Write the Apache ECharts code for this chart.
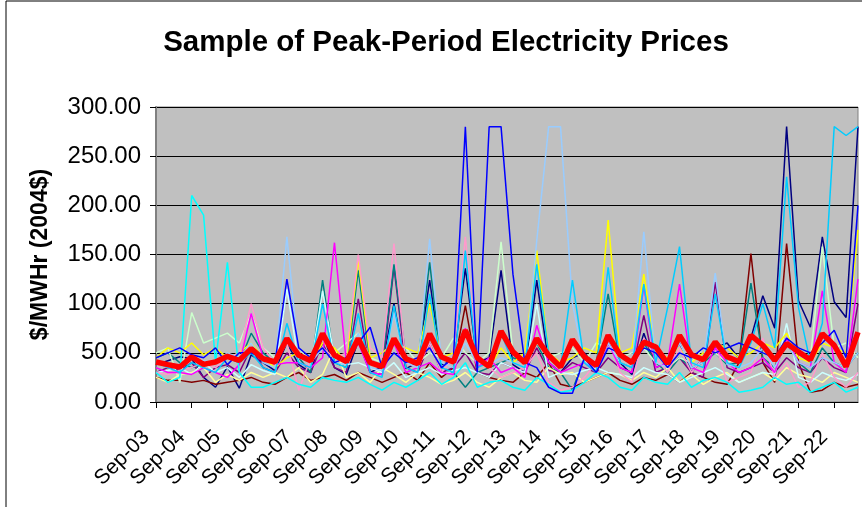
<!DOCTYPE html>
<html>
<head>
<meta charset="utf-8">
<title>Sample of Peak-Period Electricity Prices</title>
<script src="https://cdn.jsdelivr.net/npm/echarts@6/dist/echarts.min.js"></script>
<style>
  html, body { margin: 0; padding: 0; background: #fff; }
  #chart { width: 862px; height: 507px; }
</style>
</head>
<body>
<div id="chart"></div>
<script>
// days on the axis, three peak-period readings per day
var days = ['Sep-03', 'Sep-04', 'Sep-05', 'Sep-06', 'Sep-07', 'Sep-08', 'Sep-09',
  'Sep-10', 'Sep-11', 'Sep-12', 'Sep-13', 'Sep-14', 'Sep-15', 'Sep-16', 'Sep-17',
  'Sep-18', 'Sep-19', 'Sep-20', 'Sep-21', 'Sep-22'];
var readingsPerDay = 3;

var navy = [38, 42, 46, 44, 25, 15, 36, 14, 48, 40,
  32, 60, 38, 30, 70, 35, 28, 62, 30, 36,
  100, 34, 40, 124, 38, 42, 136, 40, 45, 134,
  38, 30, 124, 40, 30, 45, 50, 35, 60, 40,
  28, 70, 35, 40, 60, 30, 45, 55, 60, 44,
  65, 108, 75, 280, 103, 76, 168, 102, 86, 280];
var blue = [45, 50, 55, 48, 45, 55, 38, 50, 50, 45,
  40, 125, 55, 45, 55, 40, 45, 60, 76, 35,
  50, 40, 45, 55, 35, 45, 280, 30, 280, 280,
  130, 40, 35, 15, 9, 9, 45, 30, 55, 50,
  40, 55, 50, 35, 50, 45, 55, 50, 55, 60,
  55, 50, 45, 65, 55, 50, 60, 73, 45, 200];
var cyan = [30, 20, 25, 210, 190, 40, 142, 30, 15, 15,
  20, 25, 18, 15, 25, 22, 20, 25, 18, 12,
  20, 15, 22, 30, 18, 25, 40, 15, 20, 22,
  15, 12, 25, 18, 10, 12, 20, 30, 25, 15,
  12, 25, 20, 18, 30, 15, 22, 25, 20, 10,
  12, 15, 25, 18, 20, 10, 15, 20, 10, 15];
var skyBlue = [40, 35, 30, 40, 35, 30, 45, 40, 50, 35,
  30, 80, 40, 35, 100, 40, 35, 90, 30, 25,
  98, 35, 30, 110, 35, 30, 154, 35, 40, 70,
  40, 35, 140, 50, 35, 124, 40, 30, 137, 40,
  35, 120, 40, 96, 158, 40, 35, 110, 40, 35,
  60, 100, 55, 229, 96, 40, 80, 280, 271, 280];
var maroon = [25, 22, 22, 20, 22, 18, 20, 22, 25, 20,
  18, 25, 30, 22, 25, 28, 22, 30, 25, 20,
  25, 30, 22, 40, 25, 35, 98, 30, 25, 22,
  20, 30, 25, 40, 18, 15, 20, 25, 30, 22,
  18, 25, 22, 28, 20, 30, 25, 20, 18, 40,
  151, 40, 20, 161, 40, 10, 12, 20, 15, 18];
var magenta = [35, 30, 30, 28, 35, 30, 25, 38, 90, 45,
  38, 40, 40, 35, 45, 162, 40, 60, 30, 28,
  60, 30, 35, 40, 30, 28, 75, 35, 45, 30,
  35, 25, 78, 40, 30, 35, 40, 30, 60, 35,
  30, 118, 35, 40, 120, 35, 30, 55, 40, 30,
  35, 45, 30, 65, 40, 35, 113, 40, 30, 125];
var rose = [30, 28, 32, 35, 40, 35, 45, 50, 100, 55,
  40, 60, 12, 45, 55, 45, 50, 150, 55, 45,
  161, 40, 35, 60, 30, 45, 168, 40, 35, 25,
  30, 35, 50, 20, 12, 15, 25, 40, 70, 30,
  20, 65, 45, 30, 55, 30, 45, 60, 20, 25,
  30, 65, 25, 40, 15, 20, 50, 25, 15, 30];
var teal = [45, 50, 40, 35, 38, 42, 45, 40, 70, 50,
  40, 60, 45, 30, 124, 40, 35, 134, 40, 38,
  140, 45, 40, 142, 35, 30, 15, 30, 35, 40,
  45, 40, 60, 35, 30, 12, 45, 40, 110, 40,
  35, 60, 40, 30, 45, 35, 40, 50, 38, 40,
  121, 45, 35, 60, 40, 30, 55, 40, 35, 50];
var purple = [30, 35, 32, 40, 25, 35, 38, 30, 55, 35,
  30, 50, 35, 30, 60, 35, 30, 105, 30, 28,
  137, 35, 30, 60, 30, 35, 50, 30, 28, 40,
  35, 30, 55, 32, 30, 40, 35, 30, 45, 35,
  30, 88, 30, 35, 45, 30, 25, 122, 35, 30,
  35, 40, 30, 45, 35, 30, 45, 35, 30, 100];
var yellow = [45, 55, 50, 60, 48, 55, 45, 50, 60, 45,
  35, 45, 50, 40, 60, 55, 40, 145, 45, 50,
  60, 55, 50, 100, 45, 50, 70, 40, 35, 55,
  40, 50, 154, 50, 40, 45, 55, 50, 185, 50,
  55, 130, 50, 45, 55, 40, 50, 60, 55, 45,
  50, 60, 55, 70, 45, 40, 60, 55, 50, 175];
var lightGreen = [50, 55, 20, 91, 60, 65, 70, 60, 90, 55,
  45, 60, 55, 40, 65, 50, 60, 70, 45, 40,
  60, 55, 40, 50, 45, 65, 50, 40, 50, 163,
  50, 40, 60, 45, 50, 55, 40, 60, 55, 45,
  50, 55, 40, 35, 45, 40, 55, 50, 40, 45,
  55, 50, 45, 60, 50, 45, 158, 55, 60, 45];
var lightYellow = [25, 20, 28, 30, 35, 20, 28, 22, 30, 25,
  30, 25, 35, 20, 28, 55, 25, 30, 20, 35,
  28, 20, 30, 25, 18, 22, 30, 20, 15, 25,
  30, 22, 20, 35, 28, 30, 20, 25, 30, 28,
  22, 30, 25, 35, 20, 28, 18, 25, 30, 20,
  25, 30, 22, 35, 28, 25, 20, 30, 25, 20];
var turquoise = [30, 32, 35, 28, 40, 30, 35, 25, 38, 32,
  28, 115, 40, 35, 113, 45, 38, 40, 35, 30,
  40, 25, 30, 35, 28, 32, 35, 30, 25, 40,
  35, 30, 100, 25, 30, 28, 32, 35, 30, 28,
  25, 35, 30, 28, 20, 25, 30, 35, 28, 20,
  25, 30, 28, 80, 25, 20, 30, 25, 22, 28];
var paleBlue = [40, 35, 38, 45, 42, 40, 50, 45, 60, 40,
  35, 168, 45, 40, 55, 40, 38, 70, 35, 32,
  90, 40, 35, 166, 40, 35, 60, 40, 38, 45,
  40, 35, 164, 280, 280, 100, 40, 35, 60, 40,
  35, 173, 40, 35, 60, 35, 40, 131, 38, 35,
  40, 55, 35, 60, 40, 35, 45, 40, 35, 50];
// thick red line
var average = [40.7, 38, 35.6, 45.8, 38.3, 40.7, 46.5, 42.4, 54.3, 44,
  40.7, 64.5, 47.5, 42, 69.5, 47.5, 41, 64.5, 40, 36,
  64.5, 44, 39, 69.5, 45.8, 40.7, 72.9, 45, 36, 72,
  51, 40, 64.5, 47.5, 35.6, 63.4, 46, 37, 67.8, 48,
  40, 61, 56, 39, 67.8, 48, 43, 61, 46, 41,
  67.8, 57.7, 42.4, 59.4, 51, 43, 69.5, 57.7, 36, 71];

var yMin = 0, yMax = 300, yStep = 50;

// one category per reading, label shows the day only
var categories = [];
days.forEach(function (d) {
  for (var k = 1; k <= readingsPerDay; k++) categories.push(d + ' ' + k);
});

var thinLines = [
  { name: 'navy', color: '#000080', data: navy },
  { name: 'maroon', color: '#800000', data: maroon },
  { name: 'purple', color: '#800080', data: purple },
  { name: 'teal', color: '#008080', data: teal },
  { name: 'lightYellow', color: '#FFFF99', data: lightYellow },
  { name: 'turquoise', color: '#CCFFFF', data: turquoise },
  { name: 'lightGreen', color: '#CCFFCC', data: lightGreen },
  { name: 'yellow', color: '#FFFF00', data: yellow },
  { name: 'rose', color: '#FF99CC', data: rose },
  { name: 'magenta', color: '#FF00FF', data: magenta },
  { name: 'cyan', color: '#00FFFF', data: cyan },
  { name: 'paleBlue', color: '#99CCFF', data: paleBlue },
  { name: 'skyBlue', color: '#00CCFF', data: skyBlue },
  { name: 'blue', color: '#0000FF', data: blue }
];

var series = thinLines.map(function (s) {
  return {
    name: s.name,
    type: 'line',
    data: s.data,
    symbol: 'none',
    lineStyle: { color: s.color, width: 1.5 },
    itemStyle: { color: s.color }
  };
});
series.push({
  name: 'average',
  type: 'line',
  data: average,
  symbol: 'none',
  z: 5,
  lineStyle: { color: '#FF0000', width: 5.5 },
  itemStyle: { color: '#FF0000' }
});

var font = '"Liberation Sans", Arial, sans-serif';
var myChart = echarts.init(document.getElementById('chart'));
myChart.setOption({
  animation: false,
  backgroundColor: '#fff',
  title: {
    text: 'Sample of Peak-Period Electricity Prices',
    left: 441,
    top: 23,
    textAlign: 'center',
    textStyle: { fontFamily: font, fontWeight: 'bold', fontSize: 29.5, color: '#000' }
  },
  grid: {
    left: 156, right: 4, top: 107, bottom: 105,
    show: true,
    backgroundColor: '#C0C0C0',
    borderColor: '#808080',
    borderWidth: 1
  },
  xAxis: {
    type: 'category',
    data: categories,
    boundaryGap: false,
    axisLine: { lineStyle: { color: '#000', width: 1 } },
    axisTick: { interval: readingsPerDay - 1, length: 6, lineStyle: { color: '#000' } },
    axisLabel: {
      interval: readingsPerDay - 1,
      rotate: 45,
      margin: 22,
      fontSize: 21,
      fontFamily: font,
      color: '#000',
      formatter: function (v) { return '{d|' + v.split(' ')[0] + '}'; },
      rich: { d: { fontSize: 21, fontFamily: font, color: '#000', padding: [0, 14, 0, 0] } }
    },
    splitLine: { show: false }
  },
  yAxis: {
    type: 'value',
    min: yMin,
    max: yMax,
    interval: yStep,
    name: '$/MWHr (2004$)',
    nameLocation: 'middle',
    nameGap: 104,
    nameRotate: 90,
    nameTextStyle: { fontFamily: font, fontWeight: 'bold', fontSize: 23, color: '#000' },
    axisLine: { show: true, lineStyle: { color: '#808080', width: 2 } },
    axisTick: { show: true, length: 6, lineStyle: { color: '#000' } },
    axisLabel: {
      fontSize: 24,
      fontFamily: font,
      color: '#000',
      margin: 15,
      formatter: function (v) { return v.toFixed(2); }
    },
    splitLine: { lineStyle: { color: '#000', width: 1 } }
  },
  graphic: [{
    type: 'polyline',
    shape: { points: [[6, 507], [6, 1], [862, 1]] },
    style: { stroke: '#000', lineWidth: 1, fill: null },
    silent: true
  }],
  series: series
});
</script>
</body>
</html>
